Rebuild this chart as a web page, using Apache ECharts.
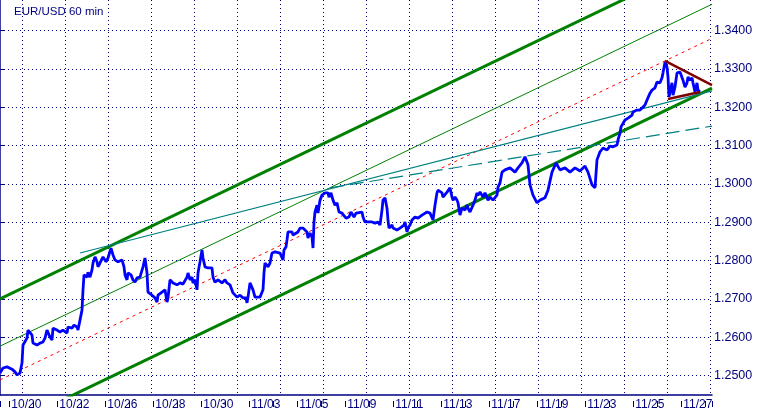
<!DOCTYPE html>
<html>
<head>
<meta charset="utf-8">
<script src="https://cdn.jsdelivr.net/npm/echarts@6/dist/echarts.min.js"></script>
<style>html,body{margin:0;padding:0;background:#fff}#c{width:760px;height:412px}</style>
</head>
<body>
<div id="c"></div>
<script>
// ---- data (hour index since start, EUR/USD price) ----
const titleText = 'EUR/USD 60 min';
const dateLabels = ['10/20','10/22','10/26','10/28','10/30','11/03','11/05','11/09','11/11','11/13','11/17','11/19','11/23','11/25','11/27'];
const hours = [0,3,7,12,15,17,20,22,23,25,27,28,30,32,33,37,40,43,45,47,50,52,53,57,60,63,67,68,72,74,77,78,80,82,83,84,86,87,88,90,92,93,95,97,98,100,103,106,108,111,113,115,118,122,124,125,127,128,131,133,135,137,140,143,145,147,148,152,155,157,158,162,163,165,167,168,170,172,173,175,177,180,183,187,188,190,192,193,195,197,198,200,202,203,205,208,212,213,215,218,222,225,227,230,233,235,237,240,243,246,247,248,250,252,253,255,257,260,262,263,264,265,268,270,272,275,280,282,283,284,286,287,288,290,292,293,295,298,300,302,303,307,308,310,311,312,313,314,315,317,318,320,322,323,325,327,328,329,331,333,335,337,339,342,344,346,348,349,351,353,354,356,358,362,363,365,368,372,375,378,380,382,383,385,387,388,389,392,393,397,400,402,404,405,407,408,410,412,413,415,418,420,422,423,427,430,432,433,435,437,438,440,442,443,445,447,448,450,452,453,455,457,458,460,462,463,465,467,468,470,472,473,475,477,478,480,482,483,485,487,488,490,493,497,498,500,502,505,510,515,518,522,525,528,530,533,537,540,545,548,552,556,560,565,570,575,580,585,588,592,595,597,600,603,607,610,613,617,618,620,621,623,625,628,632,633,637,640,645,647,650,652,653,655,657,658,660,662,663,665,667,668,669,670,672,673,675,677,680,682,683,685,687,688,690,692,693,695,697,698,700];
const prices = [1.2507,1.2520,1.2523,1.2517,1.2510,1.2502,1.2507,1.2533,1.2580,1.2585,1.2598,1.2619,1.2624,1.2606,1.2585,1.2580,1.2585,1.2588,1.2598,1.2619,1.2601,1.2593,1.2624,1.2619,1.2614,1.2619,1.2611,1.2627,1.2624,1.2632,1.2627,1.2619,1.2645,1.2671,1.2724,1.2763,1.2768,1.2757,1.2770,1.2757,1.2776,1.2794,1.2810,1.2797,1.2784,1.2794,1.2810,1.2797,1.2807,1.2833,1.2815,1.2802,1.2797,1.2802,1.2784,1.2763,1.2750,1.2768,1.2763,1.2750,1.2744,1.2755,1.2757,1.2784,1.2807,1.2768,1.2718,1.2710,1.2703,1.2692,1.2710,1.2718,1.2716,1.2724,1.2692,1.2703,1.2750,1.2755,1.2742,1.2744,1.2737,1.2742,1.2739,1.2757,1.2768,1.2750,1.2757,1.2742,1.2750,1.2724,1.2768,1.2797,1.2828,1.2807,1.2784,1.2781,1.2781,1.2757,1.2744,1.2750,1.2742,1.2750,1.2742,1.2737,1.2716,1.2718,1.2705,1.2710,1.2703,1.2703,1.2690,1.2705,1.2742,1.2742,1.2724,1.2705,1.2703,1.2705,1.2710,1.2724,1.2768,1.2794,1.2784,1.2794,1.2820,1.2823,1.2820,1.2823,1.2802,1.2828,1.2836,1.2854,1.2875,1.2880,1.2875,1.2867,1.2872,1.2875,1.2885,1.2880,1.2885,1.2875,1.2859,1.2872,1.2875,1.2862,1.2833,1.2901,1.2927,1.2945,1.2924,1.2958,1.2971,1.2966,1.2977,1.2979,1.2977,1.2966,1.2977,1.2958,1.2945,1.2951,1.2927,1.2924,1.2927,1.2911,1.2906,1.2914,1.2927,1.2924,1.2914,1.2924,1.2919,1.2927,1.2914,1.2901,1.2901,1.2901,1.2898,1.2901,1.2893,1.2932,1.2958,1.2964,1.2937,1.2906,1.2885,1.2893,1.2885,1.2880,1.2885,1.2880,1.2893,1.2901,1.2875,1.2885,1.2893,1.2906,1.2906,1.2914,1.2911,1.2906,1.2919,1.2924,1.2927,1.2924,1.2919,1.2906,1.2945,1.2977,1.2984,1.2979,1.2977,1.2966,1.2971,1.2979,1.2977,1.2990,1.2966,1.2958,1.2966,1.2958,1.2951,1.2919,1.2937,1.2940,1.2932,1.2945,1.2937,1.2927,1.2932,1.2945,1.2958,1.2977,1.2971,1.2979,1.2977,1.2966,1.2977,1.2964,1.2958,1.2966,1.2958,1.2971,1.2992,1.3003,1.3031,1.3037,1.3042,1.3031,1.3042,1.3055,1.3071,1.3050,1.2998,1.2971,1.2951,1.2958,1.2964,1.2984,1.3031,1.3055,1.3037,1.3042,1.3031,1.3042,1.3034,1.3047,1.3031,1.2998,1.2990,1.3063,1.3084,1.3094,1.3089,1.3099,1.3097,1.3102,1.3115,1.3133,1.3149,1.3154,1.3167,1.3172,1.3180,1.3188,1.3193,1.3193,1.3206,1.3219,1.3237,1.3245,1.3240,1.3251,1.3266,1.3271,1.3264,1.3277,1.3290,1.3318,1.3305,1.3279,1.3227,1.3232,1.3264,1.3232,1.3253,1.3290,1.3292,1.3290,1.3271,1.3253,1.3264,1.3279,1.3271,1.3277,1.3264,1.3240,1.3264,1.3245,1.3240];

// trend lines: [hour, price] end points
const upperChannel = [[0, 1.2700], [712, 1.3592]];
const midChannel = [[0, 1.2577], [712, 1.3469]];
const centerLine = [[0, 1.2489], [712, 1.3380]];
const lowerChannel = [[0, 1.2358], [712, 1.3250]];
const tealLine = [[80, 1.2820], [712, 1.3243]];
const tealDashed = [[330, 1.2990], [712, 1.3151]];
const triangleUpper = [[665, 1.3321], [712, 1.3258]];
const triangleLower = [[668, 1.3222], [700, 1.3240]];

// axis ranges
const hourMin = 0, hourMax = 712;
const priceMin = 1.24496, priceMax = 1.34801, priceStep = 0.01;
// label axis: one unit = one trading day (24 h); first day boundary at hour 9.3
const dayMin = -9.3 / 24, dayMax = (712 - 9.3) / 24;
// grid axis: vertical dotted lines every 43 h starting at hour 22
const gridMin = -22 / 43, gridMax = (712 - 22) / 43;

const NAVY = '#000080';
const FONT = 'Liberation Sans, Arial, sans-serif';
const chart = echarts.init(document.getElementById('c'), null, {renderer: 'canvas'});
const priceData = hours.map((h, i) => [h, prices[i]]);

function lineSeries(name, data, color, width, type) {
  return {name, type: 'line', data, xAxisIndex: 0, yAxisIndex: 0,
    showSymbol: false, symbol: 'none', silent: true, animation: false,
    lineStyle: {color, width, type: type || 'solid'}, z: 3};
}

const isInt = v => Math.abs(v - Math.round(v)) < 1e-6;

chart.setOption({
  animation: false,
  backgroundColor: '#ffffff',
  title: {text: titleText, left: 9, top: 1,
    textStyle: {fontSize: 11.5, fontWeight: 'normal', color: NAVY, fontFamily: FONT}},
  grid: {left: 0, right: 48, top: 0, bottom: 17, containLabel: false},
  xAxis: [
    {type: 'value', min: hourMin, max: hourMax, show: true, position: 'bottom',
      axisLine: {show: true, onZero: false, lineStyle: {color: NAVY, width: 1.5}},
      axisTick: {show: false}, axisLabel: {show: false}, splitLine: {show: false}},
    {type: 'value', min: gridMin, max: gridMax, minInterval: 1, maxInterval: 1, position: 'bottom',
      axisLine: {show: false}, axisTick: {show: false}, axisLabel: {show: false},
      splitLine: {show: true, showMinLine: false, showMaxLine: false, lineStyle: {color: NAVY, width: 1, type: [1, 3]}}},
    {type: 'value', min: dayMin, max: dayMax, minInterval: 1, maxInterval: 1, position: 'bottom',
      axisLine: {show: false}, axisTick: {show: false}, splitLine: {show: false},
      axisLabel: {show: true, showMinLabel: false, showMaxLabel: false, margin: 4, align: 'left',
        padding: [0, 0, 0, 2], color: NAVY, fontSize: 12, fontFamily: FONT,
        formatter: v => { if (!isInt(v)) return ''; const k = Math.round(v); return (k % 2 === 0 && dateLabels[k / 2]) ? dateLabels[k / 2] : ''; }}},
    {type: 'value', min: dayMin, max: dayMax, minInterval: 1, maxInterval: 1, position: 'bottom', offset: 6,
      axisLine: {show: false}, axisLabel: {show: false}, splitLine: {show: false},
      axisTick: {show: true, length: 6, lineStyle: {color: NAVY, width: 1}}}
  ],
  yAxis: [{
    type: 'value', position: 'right', min: priceMin, max: priceMax, minInterval: priceStep, maxInterval: priceStep,
    axisLine: {show: true, lineStyle: {color: NAVY, width: 1.5}},
    axisTick: {show: true, length: 4, lineStyle: {color: NAVY}},
    axisLabel: {show: true, showMinLabel: false, showMaxLabel: false, margin: 2, color: NAVY, fontSize: 12.5,
      fontFamily: FONT, formatter: v => isInt(v / priceStep) ? v.toFixed(4) : ''},
    splitLine: {show: true, showMinLine: false, showMaxLine: false, lineStyle: {color: NAVY, width: 1, type: [1, 3]}}
  }],
  series: [
    lineSeries('upper', upperChannel, '#008000', 3),
    lineSeries('mid', midChannel, '#008000', 1),
    lineSeries('center', centerLine, '#ff0000', 1, [3, 4]),
    lineSeries('lower', lowerChannel, '#008000', 3),
    lineSeries('teal', tealLine, '#008080', 1.2),
    lineSeries('tealDashed', tealDashed, '#008080', 1.2, [14, 6]),
    Object.assign(lineSeries('price', priceData, '#0000ff', 2.8), {z: 4}),
    Object.assign(lineSeries('triU', triangleUpper, '#800000', 2.5), {z: 5}),
    Object.assign(lineSeries('triL', triangleLower, '#800000', 2.5), {z: 5})
  ]
});
</script>
</body>
</html>
